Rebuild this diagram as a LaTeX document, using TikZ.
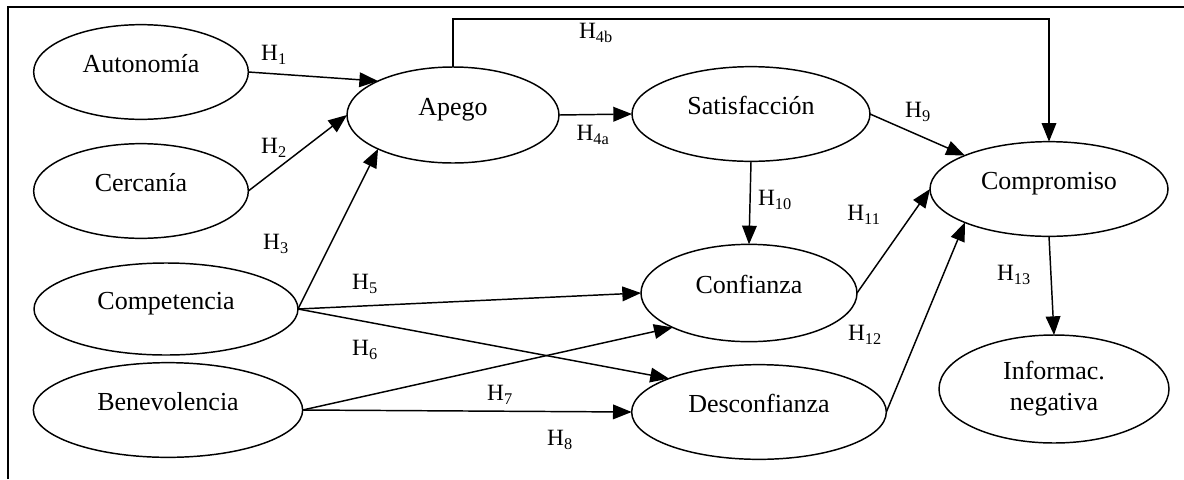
\documentclass[tikz,border=0pt]{standalone}
\usepackage{fontspec}
\setmainfont{Liberation Serif}
\usetikzlibrary{arrows.meta}
\usetikzlibrary{shapes.geometric}

\begin{document}
\begin{tikzpicture}[x=0.75pt, y=-0.75pt,
  construct/.style={ellipse, draw, line width=1.1pt, inner sep=0pt, outer sep=0pt,
    minimum height=71pt, text height=10pt, text depth=10pt,
    font=\fontsize{19.5}{23.4}\selectfont},
  hyp/.style={inner sep=0pt, font=\fontsize{17.5}{21}\selectfont},
  link/.style={line width=1.1pt, -{Triangle[length=14pt, width=11pt]}}]
\useasboundingbox (0,0) rectangle (1184,479);
% frame
\draw[line width=1.3pt] (8,479) -- (8,7) -- (1184,7);
\coordinate (bend) at (750,19);
% draws constructs
\node[construct, minimum width=161pt] (auto) at (141,72) {Autonomía};
\node[construct, minimum width=161pt] (cerc) at (141,191) {Cercanía};
\node[construct, minimum width=198pt, minimum height=69pt] (comp) at (166,309) {Competencia};
\node[construct, minimum width=202pt] (bene) at (168,410) {Benevolencia};
\node[construct, minimum width=159pt, minimum height=72pt] (apego) at (453,115) {Apego};
\node[construct, minimum width=178.5pt] (satis) at (751,114) {Satisfacción};
\node[construct, minimum width=162pt, minimum height=73pt] (conf) at (749,293) {Confianza};
\node[construct, minimum width=191pt] (desc) at (759,412) {Desconfianza};
\node[construct, minimum width=178.5pt] (compr) at (1049,189) {Compromiso};
\node[construct, minimum width=172.5pt, minimum height=81pt, align=center,
  text height={}, text depth={}] (info) at (1054,389) {Informac.\\negativa};
% labels hypotheses
\node[hyp] (h1) at (274,55) {H\textsubscript{1}};
\node[hyp] (h2) at (274,148) {H\textsubscript{2}};
\node[hyp] (h3) at (276,244) {H\textsubscript{3}};
\node[hyp] (h4b) at (596,33) {H\textsubscript{4b}};
\node[hyp] (h4a) at (593,135) {H\textsubscript{4a}};
\node[hyp] (h5) at (365,284) {H\textsubscript{5}};
\node[hyp] (h6) at (365,350) {H\textsubscript{6}};
\node[hyp] (h7) at (500,395) {H\textsubscript{7}};
\node[hyp] (h8) at (560,440) {H\textsubscript{8}};
\node[hyp] (h9) at (918,112) {H\textsubscript{9}};
\node[hyp] (h10) at (775,200) {H\textsubscript{10}};
\node[hyp] (h11) at (864,215) {H\textsubscript{11}};
\node[hyp] (h12) at (865,335) {H\textsubscript{12}};
\node[hyp] (h13) at (1014,275) {H\textsubscript{13}};
% draws paths
\draw[link] (auto.east) -- (apego.north west);
\draw[link] (cerc.east) -- (apego.west);
\draw[link] (comp.east) -- (apego.south west);
\draw[link] (apego.east) -- (satis.west);
\draw[link] (apego.north) |- (bend) -| (compr.north);
\draw[link] (satis.east) -- (compr.north west);
\draw[link] (satis.south) -- (conf.north);
\draw[link] (conf.east) -- (compr.west);
\draw[link] (desc.east) -- (compr.south west);
\draw[link] (compr.south) -- (info.north);
\draw[link] (comp.east) -- (conf.west);
\draw[link] (comp.east) -- (desc.north west);
\draw[link] (bene.east) -- (conf.south west);
\draw[link] (bene.east) -- (desc.west);
\end{tikzpicture}
\end{document}
